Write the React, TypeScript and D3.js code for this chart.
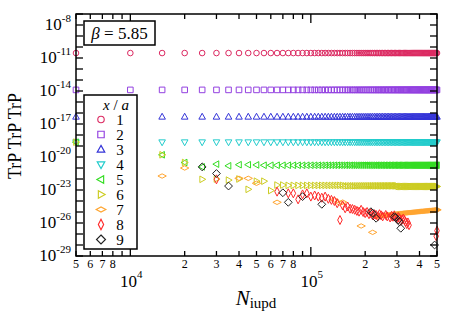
import React from "react";
import * as d3 from "d3";

// N_iupd values (one point every 5000 updates)
const nIupd = [
  5000, 10000, 15000, 20000, 25000, 30000, 35000, 40000, 45000, 50000,
  55000, 60000, 65000, 70000, 75000, 80000, 85000, 90000, 95000, 100000,
  105000, 110000, 115000, 120000, 125000, 130000, 135000, 140000, 145000, 150000,
  155000, 160000, 165000, 170000, 175000, 180000, 185000, 190000, 195000, 200000,
  205000, 210000, 215000, 220000, 225000, 230000, 235000, 240000, 245000, 250000,
  255000, 260000, 265000, 270000, 275000, 280000, 285000, 290000, 295000, 300000,
  305000, 310000, 315000, 320000, 325000, 330000, 335000, 340000, 345000, 350000,
  355000, 360000, 365000, 370000, 375000, 380000, 385000, 390000, 395000, 400000,
  405000, 410000, 415000, 420000, 425000, 430000, 435000, 440000, 445000, 450000,
  455000, 460000, 465000, 470000, 475000, 480000, 485000, 490000, 495000, 500000,
];

// log10 of TrP TrP TrP for x/a = 1..9 (null: not plotted)
const _ = null;

const s1 = [
  -10.55, -10.55, -10.55, -10.55, -10.55, -10.55, -10.55, -10.55, -10.55, -10.55,
  -10.55, -10.55, -10.55, -10.55, -10.55, -10.55, -10.55, -10.55, -10.55, -10.55,
  -10.55, -10.55, -10.55, -10.55, -10.55, -10.55, -10.55, -10.55, -10.55, -10.55,
  -10.55, -10.55, -10.55, -10.55, -10.55, -10.55, -10.55, -10.55, -10.55, -10.55,
  -10.55, -10.55, -10.55, -10.55, -10.55, -10.55, -10.55, -10.55, -10.55, -10.55,
  -10.55, -10.55, -10.55, -10.55, -10.55, -10.55, -10.55, -10.55, -10.55, -10.55,
  -10.55, -10.55, -10.55, -10.55, -10.55, -10.55, -10.55, -10.55, -10.55, -10.55,
  -10.55, -10.55, -10.55, -10.55, -10.55, -10.55, -10.55, -10.55, -10.55, -10.55,
  -10.55, -10.55, -10.55, -10.55, -10.55, -10.55, -10.55, -10.55, -10.55, -10.55,
  -10.55, -10.55, -10.55, -10.55, -10.55, -10.55, -10.55, -10.55, -10.55, -10.55,
];

const s2 = [
  -13.9, -13.9, -13.9, -13.9, -13.9, -13.9, -13.9, -13.9, -13.9, -13.9,
  -13.9, -13.9, -13.9, -13.9, -13.9, -13.9, -13.9, -13.9, -13.9, -13.9,
  -13.9, -13.9, -13.9, -13.9, -13.9, -13.9, -13.9, -13.9, -13.9, -13.9,
  -13.9, -13.9, -13.9, -13.9, -13.9, -13.9, -13.9, -13.9, -13.9, -13.9,
  -13.9, -13.9, -13.9, -13.9, -13.9, -13.9, -13.9, -13.9, -13.9, -13.9,
  -13.9, -13.9, -13.9, -13.9, -13.9, -13.9, -13.9, -13.9, -13.9, -13.9,
  -13.9, -13.9, -13.9, -13.9, -13.9, -13.9, -13.9, -13.9, -13.9, -13.9,
  -13.9, -13.9, -13.9, -13.9, -13.9, -13.9, -13.9, -13.9, -13.9, -13.9,
  -13.9, -13.9, -13.9, -13.9, -13.9, -13.9, -13.9, -13.9, -13.9, -13.9,
  -13.9, -13.9, -13.9, -13.9, -13.9, -13.9, -13.9, -13.9, -13.9, -13.9,
];

const s3 = [
  -16.35, -16.35, -16.35, -16.35, -16.35, -16.35, -16.35, -16.35, -16.35, -16.35,
  -16.35, -16.35, -16.35, -16.35, -16.35, -16.35, -16.35, -16.35, -16.35, -16.35,
  -16.35, -16.35, -16.35, -16.35, -16.35, -16.35, -16.35, -16.35, -16.35, -16.35,
  -16.35, -16.35, -16.35, -16.35, -16.35, -16.35, -16.35, -16.35, -16.35, -16.35,
  -16.35, -16.35, -16.35, -16.35, -16.35, -16.35, -16.35, -16.35, -16.35, -16.35,
  -16.35, -16.35, -16.35, -16.35, -16.35, -16.35, -16.35, -16.35, -16.35, -16.35,
  -16.35, -16.35, -16.35, -16.35, -16.35, -16.35, -16.35, -16.35, -16.35, -16.35,
  -16.35, -16.35, -16.35, -16.35, -16.35, -16.35, -16.35, -16.35, -16.35, -16.35,
  -16.35, -16.35, -16.35, -16.35, -16.35, -16.35, -16.35, -16.35, -16.35, -16.35,
  -16.35, -16.35, -16.35, -16.35, -16.35, -16.35, -16.35, -16.35, -16.35, -16.35,
];

const s4 = [
  -18.65, -18.65, -18.65, -18.65, -18.65, -18.65, -18.65, -18.65, -18.65, -18.65,
  -18.65, -18.65, -18.65, -18.65, -18.65, -18.65, -18.65, -18.65, -18.65, -18.65,
  -18.65, -18.65, -18.65, -18.65, -18.65, -18.65, -18.65, -18.65, -18.65, -18.65,
  -18.65, -18.65, -18.65, -18.65, -18.65, -18.65, -18.65, -18.65, -18.65, -18.65,
  -18.65, -18.65, -18.65, -18.65, -18.65, -18.65, -18.65, -18.65, -18.65, -18.65,
  -18.65, -18.65, -18.65, -18.65, -18.65, -18.65, -18.65, -18.65, -18.65, -18.65,
  -18.65, -18.65, -18.65, -18.65, -18.65, -18.65, -18.65, -18.65, -18.65, -18.65,
  -18.65, -18.65, -18.65, -18.65, -18.65, -18.65, -18.65, -18.65, -18.65, -18.65,
  -18.65, -18.65, -18.65, -18.65, -18.65, -18.65, -18.65, -18.65, -18.65, -18.65,
  -18.65, -18.65, -18.65, -18.65, -18.65, -18.65, -18.65, -18.65, -18.65, -18.65,
];

const s5 = [
  -18.65, -19.5, -19.8, -20.5, -20.9, -20.65, -20.8, -20.7, -20.7, -20.72,
  -20.75, -20.75, -20.75, -20.75, -20.75, -20.75, -20.75, -20.75, -20.75, -20.75,
  -20.75, -20.75, -20.75, -20.75, -20.75, -20.75, -20.75, -20.75, -20.75, -20.75,
  -20.75, -20.75, -20.75, -20.75, -20.75, -20.75, -20.75, -20.75, -20.75, -20.75,
  -20.75, -20.75, -20.75, -20.75, -20.75, -20.75, -20.75, -20.75, -20.75, -20.75,
  -20.75, -20.75, -20.75, -20.75, -20.75, -20.75, -20.75, -20.75, -20.75, -20.75,
  -20.75, -20.75, -20.75, -20.75, -20.75, -20.75, -20.75, -20.75, -20.75, -20.75,
  -20.75, -20.75, -20.75, -20.75, -20.75, -20.75, -20.75, -20.75, -20.75, -20.75,
  -20.75, -20.75, -20.75, -20.75, -20.75, -20.75, -20.75, -20.75, -20.75, -20.75,
  -20.75, -20.75, -20.75, -20.75, -20.75, -20.75, -20.75, -20.75, -20.75, -20.75,
];

const s6 = [
  -18.65, -19.5, -19.8, -20.5, -22.03, -22.0, -22.1, -22.0, -22.94, -22.2,
  -22.2, -23.05, -22.55, -22.55, -22.58, -22.58, -22.58, -22.58, -22.58, -22.58,
  -22.58, -22.58, -22.58, -22.58, -22.58, -22.58, -22.58, -22.58, -22.58, -22.58,
  -22.62, -22.62, -22.62, -22.62, -22.62, -22.62, -22.62, -22.62, -22.62, -22.62,
  -22.62, -22.62, -22.62, -22.62, -22.62, -22.62, -22.62, -22.62, -22.62, -22.62,
  -22.62, -22.62, -22.62, -22.62, -22.62, -22.62, -22.62, -22.62, -22.62, -22.62,
  -22.68, -22.68, -22.68, -22.68, -22.68, -22.68, -22.68, -22.68, -22.68, -22.68,
  -22.68, -22.68, -22.68, -22.68, -22.68, -22.68, -22.68, -22.68, -22.68, -22.68,
  -22.68, -22.68, -22.68, -22.68, -22.68, -22.68, -22.68, -22.68, -22.68, -22.68,
  -22.68, -22.68, -22.68, -22.68, -22.68, -22.68, -22.68, -22.68, -22.68, -22.68,
];

const s7 = [
  _, _, -21.73, -21.0, _, _, _, -21.94, -21.94, -22.39,
  _, _, -24.12, _, _, _, _, _, _, _,
  _, _, _, _, _, _, -23.9, _, -24.2, -24.1,
  _, _, _, _, _, _, _, -26.27, _, _,
  _, _, _, -26.85, _, -25.4, -25.38, -25.36, -25.34, -25.32,
  -25.3, -25.29, -25.27, -25.26, -25.24, -25.23, -25.21, -25.2, -25.19, -25.17,
  -25.16, -25.15, -25.14, -25.12, -25.11, -25.1, -25.09, -25.08, -25.07, -25.06,
  -25.05, -25.04, -25.03, -25.02, -25.01, -25.0, -24.99, -24.98, -24.97, -24.96,
  -24.95, -24.94, -24.94, -24.93, -24.92, -24.91, -24.9, -24.9, -24.89, -24.88,
  -24.87, -24.87, -24.86, -24.85, -24.84, -24.84, -24.83, -24.82, -24.81, -24.8,
];

const s8 = [
  _, _, _, _, _, -22.03, _, _, _, _,
  _, _, -23.15, _, -23.3, -23.3, -23.85, -23.4, -23.3, -23.6,
  -23.5, -23.6, -23.7, -23.6, -23.8, -23.9, -24.0, -24.2, -25.73, -24.4,
  -24.66, -24.5, -24.7, -24.73, -24.8, -24.9, -24.97, -24.8, -25.0, -25.1,
  -25.0, -25.2, -25.1, -25.3, -25.2, -25.27, -25.4, -25.2, -25.3, -25.4,
  _, -25.27, -25.4, _, -25.5, -25.35, -25.43, -25.3, -25.5, -25.6,
  -25.45, -25.57, -25.8, -25.7, -25.6, -25.73, -25.9, -26.1, -25.95, -26.2,
  _, _, _, _, _, _, _, _, _, _,
  _, _, _, _, _, _, _, _, _, _,
  _, _, _, _, _, _, _, _, -27.2, -26.7,
];

const s9 = [
  _, _, _, _, -20.9, -21.5, -22.64, _, _, _,
  _, _, _, -23.25, -24.12, _, _, -23.6, _, _,
  _, _, -24.3, _, _, _, _, _, _, _,
  _, _, _, _, _, _, _, _, _, _,
  _, _, -24.97, -25.1, _, -25.57, _, _, _, _,
  _, _, _, _, _, _, _, -25.43, -25.5, _,
  -25.73, -25.9, -26.48, _, _, _, _, _, _, _,
  _, _, _, _, _, _, _, _, _, _,
  _, _, _, _, _, _, _, _, _, _,
  _, _, _, _, _, _, -28.0, _, _, _,
];

const seriesValues = [s1, s2, s3, s4, s5, s6, s7, s8, s9];
const seriesNames = ["1", "2", "3", "4", "5", "6", "7", "8", "9"];
const seriesColors = [
  "#dc2a62", "#9340e0", "#3434d8", "#22cccc", "#33dd22",
  "#cccc22", "#ffa530", "#ff2a2a", "#222222",
];
const seriesShapes = [
  "circle", "square", "triUp", "triDown", "triLeft",
  "triRight", "diamondWide", "diamondTall", "diamond",
];

// axis ticks
const yTickExps = [
  -29, -28, -27, -26, -25, -24, -23, -22, -21, -20, -19, -18,
  -17, -16, -15, -14, -13, -12, -11, -10, -9, -8, -7,
];
const yLabelExps = [-8, -11, -14, -17, -20, -23, -26, -29];
const xMajorTicks = [1e4, 1e5];
const xMajorLabels = ["4", "5"];
const xMinorTicks = [
  5e3, 6e3, 7e3, 8e3, 9e3, 2e4, 3e4, 4e4, 5e4, 6e4, 7e4, 8e4, 9e4, 2e5, 3e5, 4e5, 5e5,
];
const xMinorLabels = [
  "5", "6", "7", "8", "", "2", "3", "4", "5", "6", "7", "8", "", "2", "3", "4", "5",
];

const FONT = "'Liberation Serif', 'DejaVu Serif', serif";

const shapePath = (shape: string) => {
  switch (shape) {
    case "circle":
      return "M2.8,0A2.8,2.8 0 1,1 -2.8,0A2.8,2.8 0 1,1 2.8,0Z";
    case "square":
      return "M-2.8,-2.8H2.8V2.8H-2.8Z";
    case "triUp":
      return "M0,-3.6L3.3,2.3L-3.3,2.3Z";
    case "triDown":
      return "M0,3.6L3.3,-2.3L-3.3,-2.3Z";
    case "triLeft":
      return "M-3.6,0L2.3,-3.3L2.3,3.3Z";
    case "triRight":
      return "M3.6,0L-2.3,-3.3L-2.3,3.3Z";
    case "diamondWide":
      return "M-4.2,0L0,-2.2L4.2,0L0,2.2Z";
    case "diamondTall":
      return "M0,-4.5L2.3,0L0,4.5L-2.3,0Z";
    default:
      return "M0,-3.9L3.9,0L0,3.9L-3.9,0Z";
  }
};

const App = () => {
  const width = 452;
  const height = 317;
  const left = 76;
  const right = 437;
  const top = 14;
  const bottom = 256;

  const xScale = d3.scaleLog().domain([5e3, 5e5]).range([left, right]);
  const yScale = d3.scaleLog().domain([1e-29, 1e-7]).range([bottom, top]);

  const legendX = 84;
  const legendY = 95;
  const rowH = 15;

  return (
    <div style={{ position: "absolute", left: 0, top: 0 }}>
      <svg width={width} height={height} style={{ display: "block", background: "#fff" }}>
        {
          // data points
          seriesValues.map((vals, si) => (
            <g key={si} fill="none" stroke={seriesColors[si]} strokeWidth={1}>
              {nIupd.map((n, i) =>
                vals[i] == null ? null : (
                  <path
                    key={i}
                    d={shapePath(seriesShapes[si])}
                    transform={`translate(${xScale(n)},${yScale(Math.pow(10, vals[i] as number))})`}
                  />
                )
              )}
            </g>
          ))
        }

        {/* frame */}
        <rect
          x={left}
          y={top}
          width={right - left}
          height={bottom - top}
          fill="none"
          stroke="#000"
          strokeWidth={1.5}
        />

        {
          // Y ticks (both sides) and labels
          yTickExps.map((e) => {
            const yy = yScale(Math.pow(10, e));
            return (
              <g key={e} stroke="#000" strokeWidth={1.3}>
                <line x1={left} x2={left + 7} y1={yy} y2={yy} />
                <line x1={right} x2={right - 7} y1={yy} y2={yy} />
              </g>
            );
          })
        }
        {yLabelExps.map((e) => (
          <text
            key={e}
            x={71}
            y={yScale(Math.pow(10, e)) + 5}
            textAnchor="end"
            fontFamily={FONT}
            fontSize={17}
            fill="#000"
          >
            10
            <tspan fontSize={11} dy={-8}>
              {e}
            </tspan>
          </text>
        ))}

        {
          // X ticks
          xMinorTicks.map((t, i) => (
            <g key={t}>
              <line x1={xScale(t)} x2={xScale(t)} y1={bottom} y2={bottom - 5} stroke="#000" strokeWidth={1.3} />
              <line x1={xScale(t)} x2={xScale(t)} y1={top} y2={top + 5} stroke="#000" strokeWidth={1.3} />
              <text
                x={xScale(t)}
                y={268}
                textAnchor="middle"
                fontFamily={FONT}
                fontSize={12}
                fill="#000"
              >
                {xMinorLabels[i]}
              </text>
            </g>
          ))
        }
        {xMajorTicks.map((t, i) => (
          <g key={t}>
            <line x1={xScale(t)} x2={xScale(t)} y1={bottom} y2={bottom - 9} stroke="#000" strokeWidth={1.3} />
            <line x1={xScale(t)} x2={xScale(t)} y1={top} y2={top + 9} stroke="#000" strokeWidth={1.3} />
            <text
              x={xScale(t) + 1}
              y={287}
              textAnchor="middle"
              fontFamily={FONT}
              fontSize={17}
              fill="#000"
            >
              10
              <tspan fontSize={11} dy={-9}>
                {xMajorLabels[i]}
              </tspan>
            </text>
          </g>
        ))}

        {/* axis titles */}
        <text x={256} y={305} textAnchor="middle" fontFamily={FONT} fill="#000">
          <tspan fontSize={21} fontStyle="italic">N</tspan>
          <tspan fontSize={15} dy={3}>iupd</tspan>
        </text>
        <text
          transform="translate(21,136) rotate(-90)"
          textAnchor="middle"
          fontFamily={FONT}
          fontSize={18}
          fill="#000"
        >
          TrP TrP TrP
        </text>

        {/* beta box */}
        <rect x={84} y={21} width={71} height={24} fill="#fff" stroke="#000" strokeWidth={1.5} />
        <text x={119.5} y={39} textAnchor="middle" fontFamily={FONT} fontSize={17} fill="#000">
          <tspan fontStyle="italic">β</tspan> = 5.85
        </text>

        {/* legend */}
        <rect
          x={legendX}
          y={legendY}
          width={53}
          height={154}
          fill="#fff"
          stroke="#000"
          strokeWidth={1.5}
        />
        <text x={116} y={110} textAnchor="middle" fontFamily={FONT} fontSize={15} fill="#000">
          <tspan fontStyle="italic">x</tspan> / <tspan fontStyle="italic">a</tspan>
        </text>
        {seriesNames.map((name, i) => {
          const cy = 119.5 + i * rowH;
          return (
            <g key={name}>
              <path
                d={shapePath(seriesShapes[i])}
                transform={`translate(101,${cy}) scale(1.15)`}
                fill="none"
                stroke={seriesColors[i]}
                strokeWidth={1}
              />
              <text
                x={120}
                y={cy + 5}
                textAnchor="middle"
                fontFamily={FONT}
                fontSize={15}
                fill="#000"
              >
                {name}
              </text>
            </g>
          );
        })}
      </svg>
    </div>
  );
};

export default App;
